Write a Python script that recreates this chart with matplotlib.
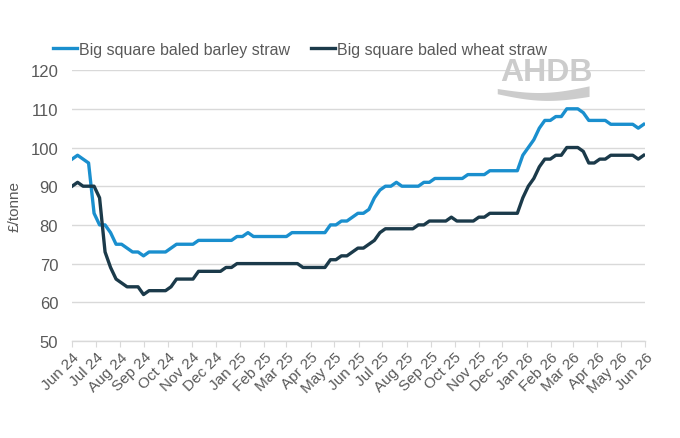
import numpy as np
import pandas as pd

import matplotlib
matplotlib.use("Agg")

import matplotlib.pyplot as plt
import matplotlib.dates as mdates

plt.rcParams["font.family"] = ["Liberation Sans", "DejaVu Sans"]

# weekly prices, Jun 2024 - May 2026 (£/tonne)
weeks = pd.date_range("2024-06-01", periods=105, freq="7D")

barley = [
    97, 98, 97, 96, 83, 80, 80, 78, 75, 75,
    74, 73, 73, 72, 73, 73, 73, 73, 74, 75,
    75, 75, 75, 76, 76, 76, 76, 76, 76, 76,
    77, 77, 78, 77, 77, 77, 77, 77, 77, 77,
    78, 78, 78, 78, 78, 78, 78, 80, 80, 81,
    81, 82, 83, 83, 84, 87, 89, 90, 90, 91,
    90, 90, 90, 90, 91, 91, 92, 92, 92, 92,
    92, 92, 93, 93, 93, 93, 94, 94, 94, 94,
    94, 94, 98, 100, 102, 105, 107, 107, 108, 108,
    110, 110, 110, 109, 107, 107, 107, 107, 106, 106,
    106, 106, 106, 105, 106,
]

wheat = [
    90, 91, 90, 90, 90, 87, 73, 69, 66, 65,
    64, 64, 64, 62, 63, 63, 63, 63, 64, 66,
    66, 66, 66, 68, 68, 68, 68, 68, 69, 69,
    70, 70, 70, 70, 70, 70, 70, 70, 70, 70,
    70, 70, 69, 69, 69, 69, 69, 71, 71, 72,
    72, 73, 74, 74, 75, 76, 78, 79, 79, 79,
    79, 79, 79, 80, 80, 81, 81, 81, 81, 82,
    81, 81, 81, 81, 82, 82, 83, 83, 83, 83,
    83, 83, 87, 90, 92, 95, 97, 97, 98, 98,
    100, 100, 100, 99, 96, 96, 97, 97, 98, 98,
    98, 98, 98, 97, 98,
]

series_names = ["Big square baled barley straw", "Big square baled wheat straw"]
colors = ["#1a8fce", "#1b3a4a"]
text_grey = "#595959"
grid_grey = "#d9d9d9"

fig = plt.figure(figsize=(6.8, 4.39), dpi=100)
ax = fig.add_axes([0.106, 0.221, 0.843, 0.617])

ax.plot(weeks, barley, color=colors[0], lw=2.4, label=series_names[0],
        solid_joinstyle="round", zorder=3)
ax.plot(weeks, wheat, color=colors[1], lw=2.4, label=series_names[1],
        solid_joinstyle="round", zorder=3)

ax.set_ylim(50, 120)
ax.set_yticks(range(50, 121, 10))
ax.set_xlim(pd.Timestamp("2024-06-01"), pd.Timestamp("2026-06-01"))
ax.xaxis.set_major_locator(mdates.MonthLocator())
ax.xaxis.set_major_formatter(mdates.DateFormatter("%b %y"))

ax.grid(axis="y", color=grid_grey, lw=1)
ax.set_axisbelow(True)
for side in ["top", "right", "left"]:
    ax.spines[side].set_visible(False)
ax.spines["bottom"].set_color(grid_grey)
ax.spines["bottom"].set_linewidth(1)

ax.tick_params(axis="y", length=0, pad=10, labelsize=12, labelcolor=text_grey)
ax.tick_params(axis="x", length=4, color=grid_grey, pad=2,
               labelsize=11, labelcolor=text_grey)
for lab in ax.get_xticklabels():
    lab.set_rotation(45)
    lab.set_ha("right")
    lab.set_rotation_mode("anchor")

ax.set_ylabel("£/tonne", fontsize=11, color=text_grey, labelpad=6)

ax.legend(loc="lower left", bbox_to_anchor=(-0.045, 1.025), ncol=2, frameon=False,
          fontsize=11.5, labelcolor=text_grey, handlelength=1.5,
          handletextpad=0.15, columnspacing=1.3, borderaxespad=0)

# AHDB logo (watermark)
fig.text(0.735, 0.8, "AHDB", fontsize=23, fontweight="bold",
         color="#cccccc", ha="left", va="bottom")
t = np.linspace(0, 1, 50)
sx = 0.732 + 0.135 * t
s_top = 0.795 - 0.012 * np.sin(np.pi * t) + 0.006 * t
s_bot = s_top - 0.012 - 0.012 * t
fig.patches.append(plt.Polygon(np.column_stack([np.r_[sx, sx[::-1]],
                                                np.r_[s_top, s_bot[::-1]]]),
                               closed=True, transform=fig.transFigure,
                               color="#cccccc", lw=0))

fig.savefig("out.png", dpi=100)
print("Saved: out.png")
